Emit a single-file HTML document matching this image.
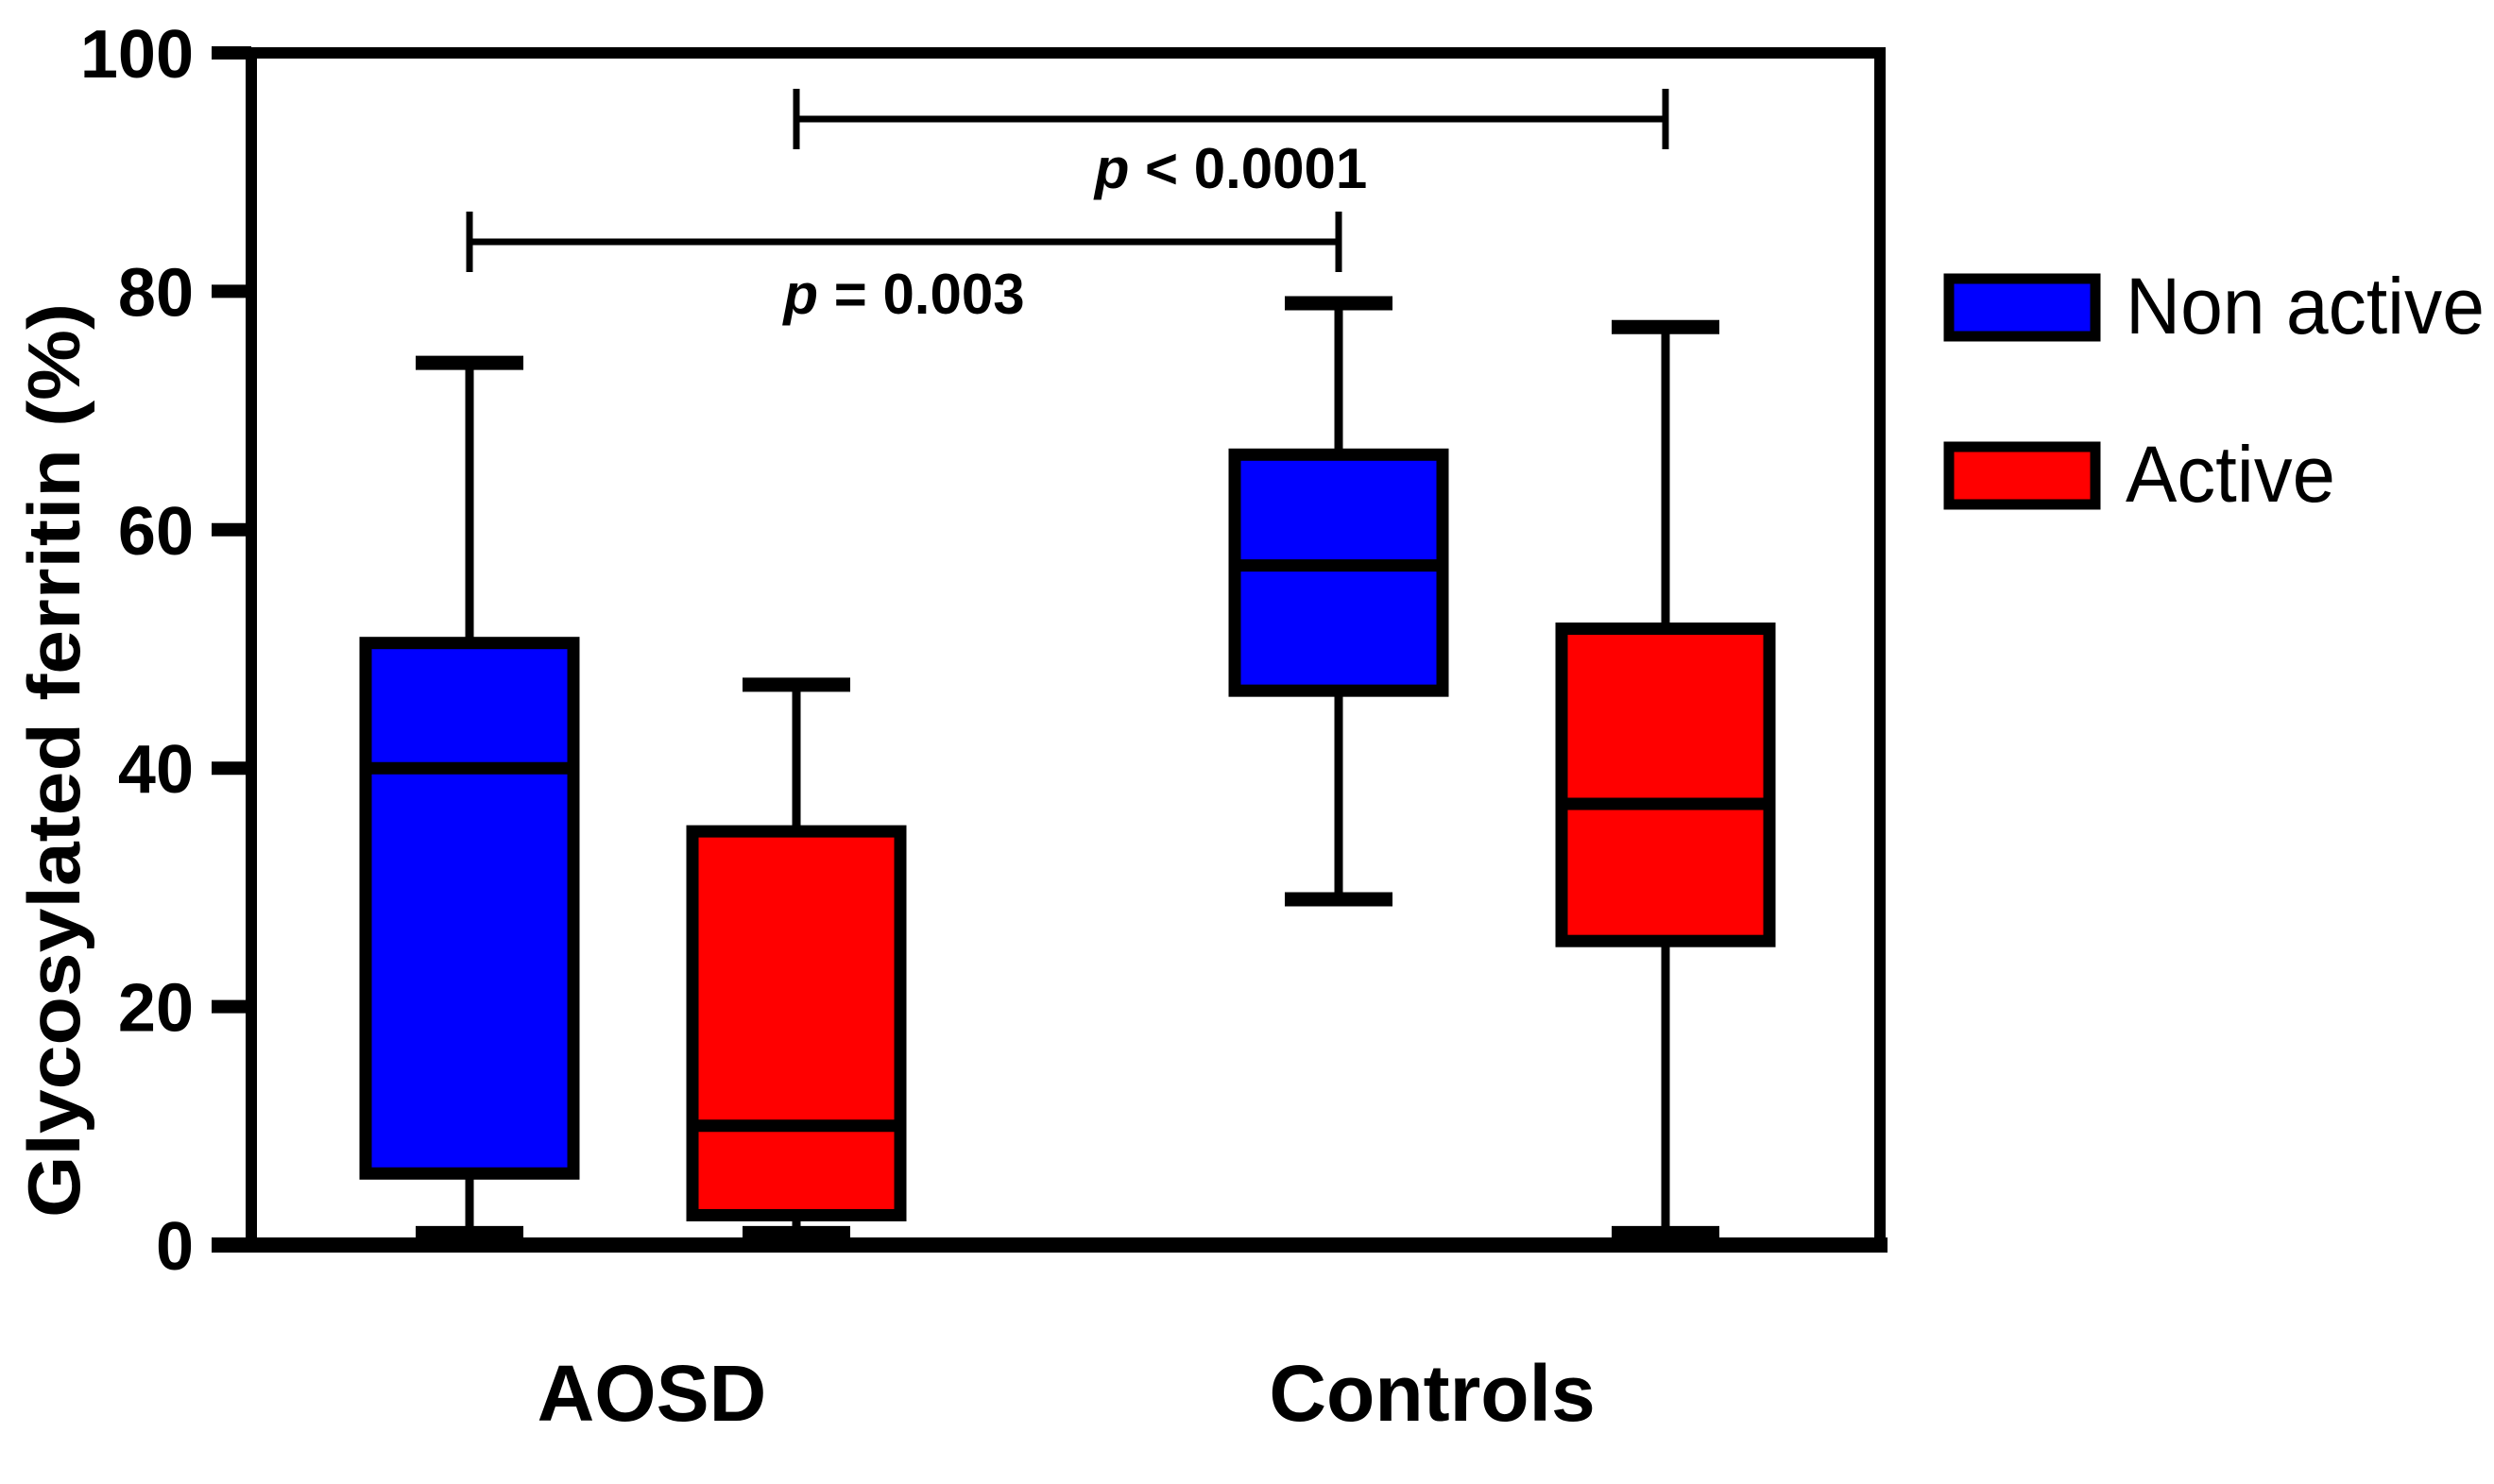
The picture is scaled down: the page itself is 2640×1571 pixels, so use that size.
<!DOCTYPE html>
<html><head><meta charset="utf-8"><style>
html,body{margin:0;padding:0;background:#fff;}
svg{display:block;font-family:"Liberation Sans",Arial,sans-serif;}
</style></head><body>
<svg id="chart" width="2640" height="1571" viewBox="0 0 2640 1571" xmlns="http://www.w3.org/2000/svg">
<rect width="2640" height="1571" fill="#fff"/>
<g id="marks"></g>
<g id="axes"></g>
</svg>
<script>
const categories = ["AOSD","Controls"];
const seriesNames = ["Non active","Active"];
const seriesColors = ["#0000ff","#ff0000"];
// [min, q1, median, q3, max]
const nonActiveStats = [[1,6,40,50.5,74],[29,46.5,57,66.3,79]];
const activeStats = [[1,2.5,10,34.7,47],[1,25.5,37,51.7,77]];
const yTicks = [0,20,40,60,80,100];
const pLabels = ["p = 0.003","p < 0.0001"];

const NS="http://www.w3.org/2000/svg";
const marks=document.getElementById('marks');
const axes=document.getElementById('axes');
function el(tag,attrs,parent){const e=document.createElementNS(NS,tag);for(const k in attrs)e.setAttribute(k,attrs[k]);(parent||marks).appendChild(e);return e;}
const y0=1318,y100=56,xL=266,xR=1990;
function yS(v){return y0-(v/100)*(y0-y100);}
const catCenter=[670,1590];
const offset=[-173,173];
function xS(ci,si){return catCenter[ci]+offset[si];}
const boxW=220,capW=114;

[nonActiveStats,activeStats].forEach((stats,si)=>{
  stats.forEach((s,ci)=>{
    const cx=xS(ci,si);
    const g=el('g',{});
    
    
    el('line',{x1:cx,x2:cx,y1:yS(s[0]),y2:yS(s[4]),stroke:'#000','stroke-width':9},g);
    el('line',{x1:cx-capW/2,x2:cx+capW/2,y1:yS(s[4]),y2:yS(s[4]),stroke:'#000','stroke-width':15},g);
    el('line',{x1:cx-capW/2,x2:cx+capW/2,y1:yS(s[0]),y2:yS(s[0]),stroke:'#000','stroke-width':15},g);
    el('rect',{x:cx-boxW/2,y:yS(s[3]),width:boxW,height:yS(s[1])-yS(s[3]),fill:seriesColors[si],stroke:'#000','stroke-width':13},g);
    el('line',{x1:cx-boxW/2,x2:cx+boxW/2,y1:yS(s[2]),y2:yS(s[2]),stroke:'#000','stroke-width':13},g);
  });
});

const fr=el('rect',{x:xL,y:y100,width:xR-xL,height:y0-y100,fill:'none',stroke:'#000','stroke-width':12},axes);


const xa=el('line',{x1:224,x2:1998,y1:y0,y2:y0,stroke:'#000','stroke-width':16},axes);


yTicks.forEach(t=>{
  const ln=el('line',{x1:224,x2:xL,y1:yS(t),y2:yS(t),stroke:'#000','stroke-width':14},axes);
  
  
  const tx=el('text',{x:205,y:yS(t)+26,'text-anchor':'end','font-size':72,'font-weight':'bold'},axes);
  tx.textContent=t;
  
  
});
const yt=el('text',{x:0,y:0,transform:'translate(84,805) rotate(-90)','text-anchor':'middle','font-size':78,'font-weight':'bold',textLength:968,lengthAdjust:'spacingAndGlyphs'},axes);
yt.textContent='Glycosylated ferritin (%)';


categories.forEach((c,ci)=>{
  const t=el('text',{x:[690,1516][ci],y:1504,'text-anchor':'middle','font-size':84,'font-weight':'bold'},axes);
  t.textContent=c;
  
  
});

const brackets=[[[0,0],[1,0],256,332],[[0,1],[1,1],126,199]];
brackets.forEach((b,i)=>{
  const g=el('g',{},axes);
  
  
  const xa=xS(b[0][0],b[0][1]),xb=xS(b[1][0],b[1][1]);
  el('line',{x1:xa,x2:xb,y1:b[2],y2:b[2],stroke:'#000','stroke-width':7},g);
  el('line',{x1:xa,x2:xa,y1:b[2]-32,y2:b[2]+32,stroke:'#000','stroke-width':7},g);
  el('line',{x1:xb,x2:xb,y1:b[2]-32,y2:b[2]+32,stroke:'#000','stroke-width':7},g);
  const t=el('text',{x:(xa+xb)/2,y:b[3],'text-anchor':'middle','font-size':60,'font-weight':'bold'},g);
  const parts=pLabels[i].split(' ');
  const ts=el('tspan',{'font-style':'italic'},t);ts.textContent=parts[0];
  const ts2=el('tspan',{},t);ts2.textContent=' '+parts.slice(1).join(' ');
});

seriesNames.forEach((n,si)=>{
  const g=el('g',{},axes);
  
  
  const yTop=[290,468][si];
  el('rect',{x:2063,y:yTop+5,width:155,height:61,fill:seriesColors[si],stroke:'#000','stroke-width':11},g);
  const t=el('text',{x:2250,y:yTop+63,'font-size':84,textLength:[380,222][si],lengthAdjust:'spacingAndGlyphs'},g);
  t.textContent=n;
});
</script>
</body></html>
